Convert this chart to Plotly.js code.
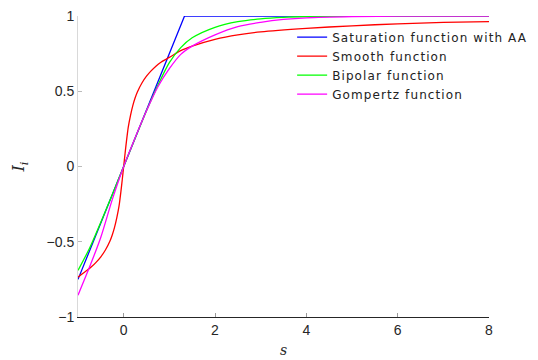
<!DOCTYPE html>
<html>
<head>
<meta charset="utf-8">
<script src="https://cdn.plot.ly/plotly-3.0.1.min.js"></script>
<style>html,body{margin:0;padding:0;background:#fff;}#chart{width:538px;height:360px;}
.legendtext{letter-spacing:1.1px;}</style>
</head>
<body>
<div id="chart"></div>
<script>
// Saturation function with AA
const satX = [-1, 1.333, 8];
const satY = [-0.75, 1, 1];
// Smooth function
const smoothX = [-1, -0.8, -0.7, -0.6, -0.5, -0.4, -0.3, -0.25, -0.2, -0.15, -0.1, -0.06, -0.03, 0, 0.03, 0.06, 0.1, 0.15, 0.2, 0.25, 0.3, 0.4, 0.5, 0.6, 0.7, 0.8, 1, 1.25, 1.5, 2, 2.5, 3, 4, 5, 6, 7, 8];
const smoothY = [-0.735, -0.69, -0.665, -0.635, -0.6, -0.555, -0.495, -0.455, -0.405, -0.34, -0.26, -0.165, -0.085, 0, 0.085, 0.165, 0.26, 0.34, 0.405, 0.455, 0.495, 0.555, 0.6, 0.635, 0.665, 0.69, 0.725, 0.77, 0.80, 0.845, 0.875, 0.895, 0.918, 0.935, 0.948, 0.957, 0.963];
// Bipolar function
const bipX = [-1, -0.75, -0.5, -0.25, 0, 0.25, 0.5, 0.75, 1, 1.25, 1.5, 2, 2.5, 3, 3.5, 4, 5, 6, 8];
const bipY = [-0.69, -0.545, -0.37, -0.187, 0, 0.187, 0.37, 0.54, 0.69, 0.79, 0.855, 0.925, 0.962, 0.981, 0.991, 0.996, 0.999, 1, 1];
// Gompertz function
const gomX = [-1, -0.75, -0.5, -0.25, 0, 0.25, 0.5, 0.75, 1, 1.25, 1.5, 2, 2.5, 3, 3.5, 4, 5, 6, 8];
const gomY = [-0.855, -0.67, -0.47, -0.22, 0, 0.19, 0.37, 0.53, 0.65, 0.745, 0.80, 0.875, 0.93, 0.958, 0.977, 0.988, 0.996, 0.999, 1];

const names = ['Saturation function with AA', 'Smooth function', 'Bipolar function', 'Gompertz function'];
const lw = 1.3;
const data = [
  {x: satX, y: satY, name: names[0], mode: 'lines', line: {color: '#0000ff', width: lw}},
  {x: smoothX, y: smoothY, name: names[1], mode: 'lines', line: {color: '#ff0000', width: lw, shape: 'spline', smoothing: 0.6}},
  {x: bipX, y: bipY, name: names[2], mode: 'lines', line: {color: '#00ff00', width: lw, shape: 'spline', smoothing: 0.8}},
  {x: gomX, y: gomY, name: names[3], mode: 'lines', line: {color: '#ff00ff', width: lw, shape: 'spline', smoothing: 0.8}}
];
const layout = {
  width: 538, height: 360,
  margin: {l: 78, r: 49, t: 16, b: 43, autoexpand: false},
  paper_bgcolor: '#fff', plot_bgcolor: '#fff',
  font: {family: 'Liberation Sans, Arial, sans-serif', size: 13, color: '#262626'},
  showlegend: true,
  legend: {x: 0.521, y: 0.978, xanchor: 'left', yanchor: 'top', bgcolor: 'rgba(0,0,0,0)',
           font: {family: 'DejaVu Sans, sans-serif', size: 12, color: '#222'},
           tracegroupgap: 0, itemwidth: 30},
  xaxis: {range: [-1, 8], tickvals: [0, 2, 4, 6, 8], ticks: 'inside', ticklen: 4, tickcolor: '#999',
          showline: true, linecolor: '#262626', linewidth: 1, showgrid: false, zeroline: false,
          tickfont: {size: 14, color: '#262626'},
          title: {text: '<i>s</i>', font: {family: 'DejaVu Serif, serif', size: 14, color: '#262626'}, standoff: 8}},
  yaxis: {range: [-1, 1], tickvals: [-1, -0.5, 0, 0.5, 1], ticktext: ['\u22121', '\u22120.5', '0', '0.5', '1'],
          ticks: 'inside', ticklen: 4, tickcolor: '#bbb',
          showline: true, linecolor: '#d9d9d9', linewidth: 1, showgrid: false, zeroline: false,
          tickfont: {size: 14, color: '#262626'},
          title: {text: '<i>I<sub>i</sub></i>', font: {family: 'DejaVu Serif, serif', size: 16, color: '#262626'}, standoff: 17}}
};
Plotly.newPlot('chart', data, layout, {displayModeBar: false, staticPlot: true});
</script>
</body>
</html>
